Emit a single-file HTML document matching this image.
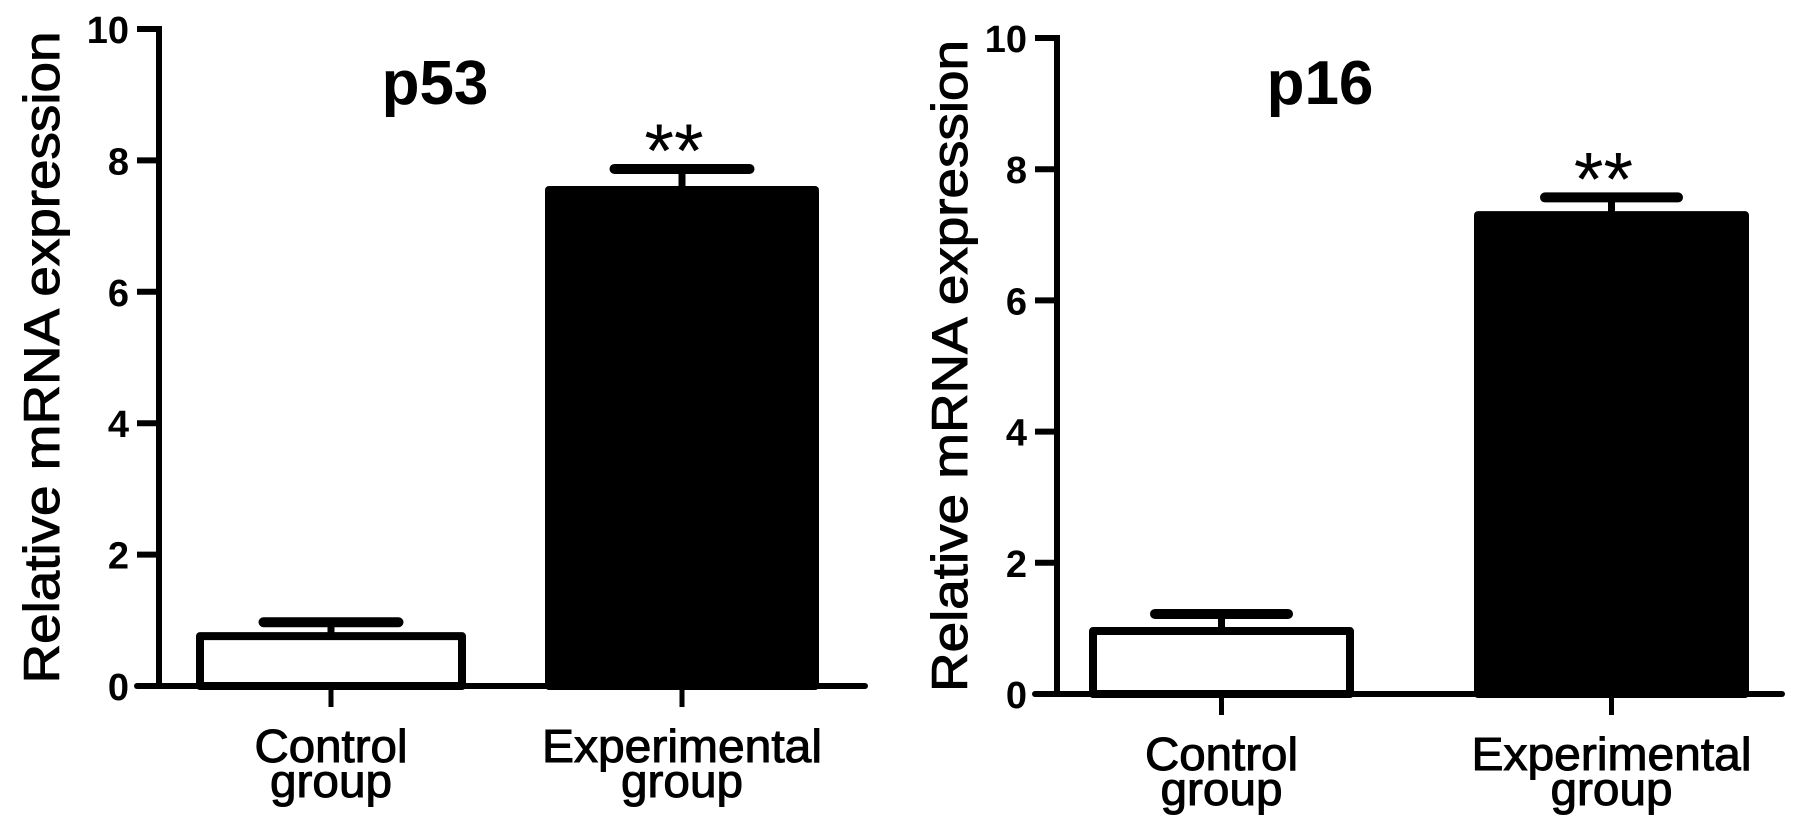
<!DOCTYPE html>
<html><head><meta charset="utf-8"><style>
html,body{margin:0;padding:0;background:#fff;}
svg{display:block;font-family:"Liberation Sans",Arial,sans-serif;font-weight:bold;}
</style></head><body>
<svg id="fig" width="1795" height="822" viewBox="0 0 1795 822" xmlns="http://www.w3.org/2000/svg"></svg>
<script>
const categories = ["Control|group", "Experimental|group"];
const p53Means = [0.76, 7.55];
const p53Errors = [0.21, 0.32];
const p16Means = [0.96, 7.30];
const p16Errors = [0.26, 0.27];
const yTicks = [0, 2, 4, 6, 8, 10];
const titles = ["p53", "p16"];
const sigMarks = ["", "**"];

const NS = "http://www.w3.org/2000/svg";
const svg = document.getElementById('fig');
function mk(tag, attrs, parent){
  const e = document.createElementNS(NS, tag);
  for (const k in attrs) e.setAttribute(k, attrs[k]);
  (parent||svg).appendChild(e);
  return e;
}
const labelLens = {"Control":153, "Experimental":280, "group":122};
const panels = [
  {axisX:159, y0:686, y10:29, xEnd:865, bars:[[200,462],[549,815]], capW:[135,135], means:p53Means, errs:p53Errors, title:titles[0], titleX:435, ytX:42, name:'p53'},
  {axisX:1057, y0:694, y10:38, xEnd:1782, bars:[[1093,1350],[1478,1745]], capW:[133,133], means:p16Means, errs:p16Errors, title:titles[1], titleX:1320, ytX:950, name:'p16'}
];
panels.forEach(p=>{
  const g = mk('g', {});
  
  
  const yS = v => p.y0 - (p.y0 - p.y10) * v / 10;
  p.means.forEach((m,i)=>{
    const [l,r] = p.bars[i];
    const cx = (l+r)/2;
    const top = yS(m), capY = yS(m + p.errs[i]);
    const eb = mk('line', {x1:cx, x2:cx, y1:top, y2:capY, stroke:'#000','stroke-width':7}, g);
    
    
    const cap = mk('line', {x1:cx-p.capW[i]/2, x2:cx+p.capW[i]/2, y1:capY, y2:capY, stroke:'#000','stroke-width':10,'stroke-linecap':'round'}, g);
    
    
    const b = mk('rect', {x:l, y:top, width:r-l, height:p.y0-top, fill: i===0?'#fff':'#000', stroke:'#000','stroke-width':8,'stroke-linejoin':'round'}, g);
    
    
    if (sigMarks[i]) {
      const s = mk('text', {x:cx-8, y:capY+8, 'text-anchor':'middle','font-size':76,'font-weight':'normal'}, g);
      s.textContent = sigMarks[i];
      
      
    }
    const xt = mk('line', {x1:cx, x2:cx, y1:p.y0, y2:p.y0+21, stroke:'#000','stroke-width':5}, g);
    
    
    const parts = categories[i].split('|');
    parts.forEach((t,j)=>{
      const tx = mk('text', {x:cx-(labelLens[t]||100)/2, y:p.y0+76+j*35, 'font-size':46,'font-weight':'normal','stroke':'#000','stroke-width':1, textLength:(labelLens[t]||100), lengthAdjust:'spacingAndGlyphs'}, g);
      tx.textContent = t;
      
      
    });
  });
  const ya = mk('line', {x1:p.axisX, x2:p.axisX, y1:p.y10-3, y2:p.y0+3, stroke:'#000','stroke-width':6}, g);
  
  
  const xa = mk('line', {x1:p.axisX-22, x2:p.xEnd, y1:p.y0, y2:p.y0, stroke:'#000','stroke-width':6,'stroke-linecap':'round'}, g);
  
  
  yTicks.forEach(v=>{
    const y = yS(v);
    const t = mk('line', {x1:p.axisX-22, x2:p.axisX, y1:y, y2:y, stroke:'#000','stroke-width':6}, g);
    
    
    const l = mk('text', {x:p.axisX-30, y:y+14, 'text-anchor':'end','font-size':38}, g);
    l.textContent = v;
    
    
  });
  const yt = mk('text', {x:-326, y:0, 'font-size':50,'font-weight':'normal','stroke':'#000','stroke-width':1, textLength:652, lengthAdjust:'spacingAndGlyphs', transform:`translate(${p.ytX+17},${(p.y0+p.y10)/2}) rotate(-90)`}, g);
  yt.textContent = 'Relative mRNA expression';
  
  
  const tt = mk('text', {x:p.titleX, y:104, 'text-anchor':'middle','font-size':62}, g);
  tt.textContent = p.title;
  
  
});
</script>
</body></html>
